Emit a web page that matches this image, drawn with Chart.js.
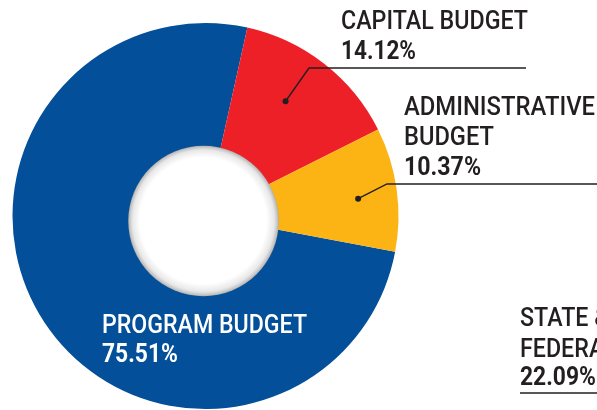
<!DOCTYPE html>
<html>
<head>
<meta charset="utf-8">
<script src="https://cdn.jsdelivr.net/npm/chart.js@4.4.1/dist/chart.umd.min.js"></script>
<style>
  html, body { margin: 0; padding: 0; background: #ffffff; }
  #wrap { width: 597px; height: 410px; position: relative; }
</style>
</head>
<body>
<div id="wrap"><canvas id="c"></canvas></div>
<script>
// ---- data ----
const categories = ['PROGRAM BUDGET', 'CAPITAL BUDGET', 'ADMINISTRATIVE BUDGET'];
const shares = [75.51, 14.12, 10.37];
const shareLabels = ['75.51%', '14.12%', '10.37%'];
const extraLabel = ['STATE &', 'FEDERAL'];
const extraValue = '22.09%';

// ---- styles ----
const sliceColors = ['#034f99', '#ed1f27', '#fcb415'];
const ink = '#231f20';
const FONT = "Roboto, 'Liberation Sans', Arial, sans-serif";
const FS = 25;

function drawText(ctx, txt, x, y, bold, color, targetW) {
  ctx.save();
  ctx.font = (bold ? '700 ' : '500 ') + FS + 'px ' + FONT;
  ctx.fillStyle = color;
  ctx.textBaseline = 'alphabetic';
  ctx.textAlign = 'left';
  const w = ctx.measureText(txt).width;
  let sx = targetW ? targetW / w : 1;
  ctx.translate(x, y);
  ctx.scale(sx, 1);
  ctx.fillText(txt, 0, 0);
  ctx.restore();
  return sx;
}

const holePlugin = {
  id: 'hole',
  afterDatasetsDraw(chart) {
    const arc = chart.getDatasetMeta(0).data[0];
    const ctx = chart.ctx;
    const cx = arc.x - 2, cy = arc.y + 5, r = arc.outerRadius * 0.39;
    ctx.save();
    const g = ctx.createRadialGradient(cx - 2, cy - 3, 0, cx, cy, r);
    g.addColorStop(0, '#ffffff');
    g.addColorStop(0.84, '#ffffff');
    g.addColorStop(0.94, '#e8e8e8');
    g.addColorStop(0.985, '#c2c2c2');
    g.addColorStop(1, '#a9a9a9');
    ctx.beginPath();
    ctx.arc(cx, cy, r, 0, Math.PI * 2);
    ctx.fillStyle = g;
    ctx.fill();
    ctx.restore();
  }
};

function polar(arc, frac, rr) {
  const a = arc.startAngle + (arc.endAngle - arc.startAngle) * frac;
  const r = arc.outerRadius * rr;
  return [arc.x + r * Math.cos(a), arc.y + r * Math.sin(a)];
}

const labelPlugin = {
  id: 'labels',
  afterDraw(chart) {
    const ctx = chart.ctx;
    const meta = chart.getDatasetMeta(0);
    const leaders = [
      { i: 1, frac: 0.44, rr: 0.725, elbow: [309, 68], end: 526 },
      { i: 2, frac: 0.54, rr: 0.796, elbow: [387, 184], end: 600 }
    ];
    ctx.save();
    ctx.strokeStyle = ink;
    ctx.fillStyle = ink;
    ctx.lineWidth = 1.4;
    leaders.forEach(l => {
      const p = polar(meta.data[l.i], l.frac, l.rr);
      ctx.beginPath();
      ctx.moveTo(p[0], p[1]);
      ctx.lineTo(l.elbow[0], l.elbow[1]);
      ctx.lineTo(l.end, l.elbow[1]);
      ctx.stroke();
      ctx.beginPath();
      ctx.arc(p[0], p[1], 3, 0, Math.PI * 2);
      ctx.fill();
    });
    ctx.beginPath();
    ctx.moveTo(520, 393);
    ctx.lineTo(600, 393);
    ctx.stroke();
    ctx.restore();

    const sx = drawText(ctx, 'CAPITAL BUDGET', 341, 29, false, ink, 187);
    drawText(ctx, shareLabels[1], 341, 59, true, ink, 75);
    drawText(ctx, 'ADMINISTRATIVE', 404, 115, false, ink, 191);
    drawText(ctx, 'BUDGET', 404, 145, false, ink, 90);
    drawText(ctx, shareLabels[2], 404, 175, true, ink, 77);
    drawText(ctx, categories[0], 102, 333, false, '#ffffff', 205);
    drawText(ctx, shareLabels[0], 102, 362, true, '#ffffff', 76);
    ctx.save();
    ctx.font = '500 ' + FS + 'px ' + FONT;
    const w1 = ctx.measureText(extraLabel[0]).width * sx;
    const w2 = ctx.measureText(extraLabel[1]).width * sx;
    ctx.restore();
    drawText(ctx, extraLabel[0], 520, 326, false, ink, w1);
    drawText(ctx, extraLabel[1], 520, 357, false, ink, w2);
    drawText(ctx, extraValue, 520, 385, true, ink, 76);
  }
};

new Chart(document.getElementById('c'), {
  type: 'doughnut',
  data: {
    labels: categories,
    datasets: [{
      data: shares,
      backgroundColor: sliceColors,
      borderWidth: 0,
      hoverOffset: 0
    }]
  },
  options: {
    responsive: true,
    maintainAspectRatio: false,
    animation: false,
    events: [],
    rotation: 100.7,
    cutout: 0,
    layout: { padding: { left: 12.5, right: 198.5, top: 23, bottom: 1 } },
    plugins: { legend: { display: false }, tooltip: { enabled: false } }
  },
  plugins: [holePlugin, labelPlugin]
});
</script>
</body>
</html>
